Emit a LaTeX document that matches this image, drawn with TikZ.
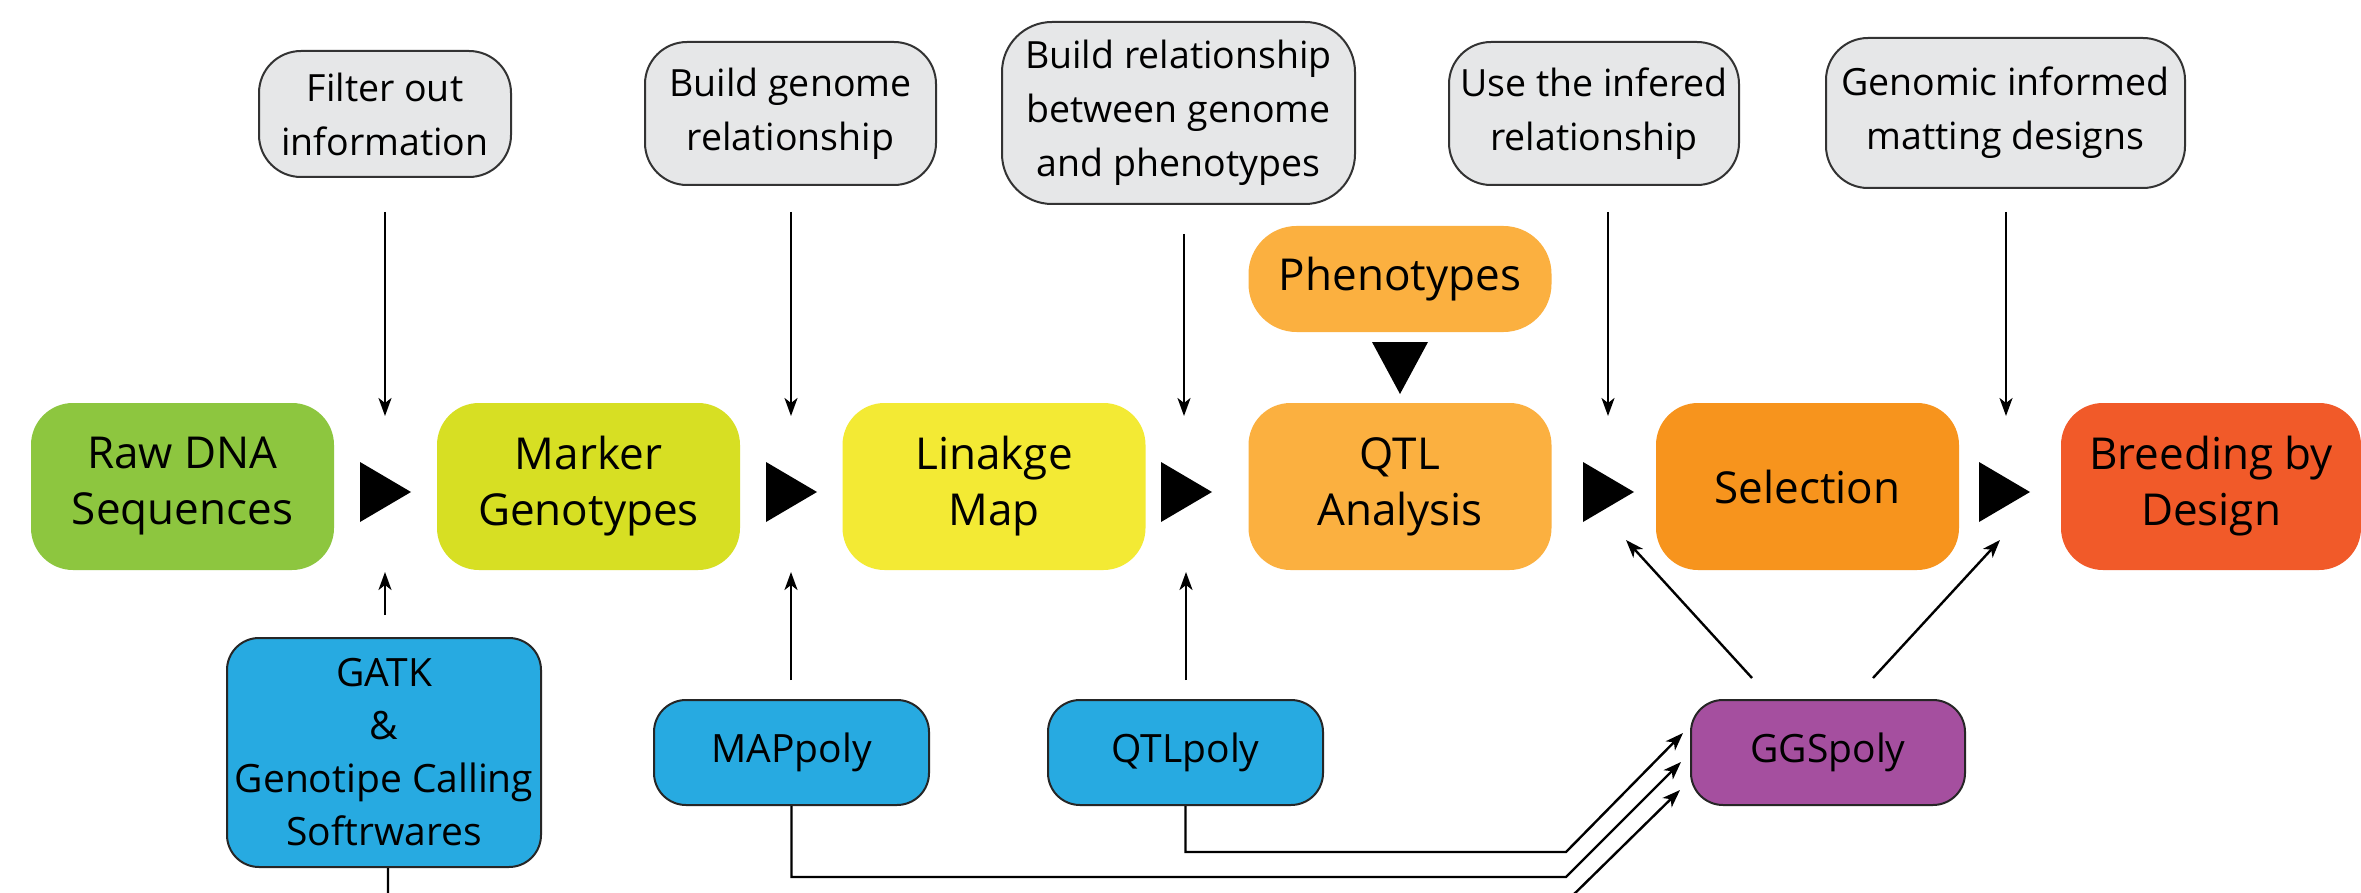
\documentclass[tikz,border=0pt]{standalone}
\usepackage{fontspec}
\setmainfont{Open Sans}
\usetikzlibrary{arrows.meta}
\definecolor{cGreen}{HTML}{8DC63F}
\definecolor{cLime}{HTML}{D7DF23}
\definecolor{cYellow}{HTML}{F3EA34}
\definecolor{cQTL}{HTML}{FBB040}
\definecolor{cSel}{HTML}{F7941D}
\definecolor{cBreed}{HTML}{F15A29}
\definecolor{cBlue}{HTML}{27AAE1}
\definecolor{cPurple}{HTML}{A54F9F}
\definecolor{cGray}{HTML}{E6E7E8}
\definecolor{cBorder}{HTML}{333333}
\tikzset{
  mainbox/.style={rectangle, rounded corners=42pt, minimum width=303pt, minimum height=167pt,
    align=center, font=\fontsize{44}{56}\selectfont, inner sep=0pt},
  graybox/.style={rectangle, rounded corners=42pt, draw=cBorder, line width=2pt, fill=cGray,
    align=center, font=\fontsize{37.5}{54}\selectfont, inner sep=0pt},
  toolbox/.style={rectangle, rounded corners=32pt, draw=black!85, line width=2pt,
    align=center, font=\fontsize{39}{53}\selectfont, inner sep=0pt},
  arr/.style={line width=2.4pt, -{Stealth[length=18pt,width=13pt,inset=5pt]}}
}
\begin{document}
\begin{tikzpicture}[x=1pt,y=-1pt]
\useasboundingbox (0,0) rectangle (2361,893);
\clip (0,0) rectangle (2361,893);
\fill[white] (0,0) rectangle (2361,893);

% main row
\node[mainbox, fill=cGreen] (raw) at (182.5,486.5) {Raw DNA\\Sequences};
\node[mainbox, fill=cLime] (marker) at (588.5,486.5) {Marker\\Genotypes};
\node[mainbox, fill=cYellow] (linkage) at (994,486.5) {Linakge\\Map};
\node[mainbox, fill=cQTL] (qtl) at (1400,486.5) {QTL\\Analysis};
\node[mainbox, fill=cSel] (sel) at (1807.5,486.5) {Selection};
\node[mainbox, fill=cBreed, minimum width=300pt] (breed) at (2211,486.5) {Breeding by\\Design};
\node[mainbox, fill=cQTL, minimum height=106pt, rounded corners=48pt] (pheno) at (1400,279) {Phenotypes};

% top gray boxes
\node[graybox, minimum width=252pt, minimum height=126pt] (filter) at (385,114) {Filter out\\information};
\node[graybox, minimum width=291pt, minimum height=143pt] (bgen) at (790.5,113.5) {Build genome\\relationship};
\node[graybox, minimum width=353pt, minimum height=182pt, rounded corners=50pt] (brel) at (1178.5,113) {Build relationship\\between genome\\and phenotypes};
\node[graybox, minimum width=290pt, minimum height=143pt] (use) at (1594,113.5) {Use the infered\\relationship};
\node[graybox, minimum width=359pt, minimum height=150pt] (gen) at (2005.5,113) {Genomic informed\\matting designs};

% bottom tool boxes
\node[toolbox, fill=cBlue, minimum width=314pt, minimum height=229pt] (gatk) at (384,752.5) {GATK\\\&\\Genotipe Calling\\Softrwares};
\node[toolbox, fill=cBlue, minimum width=275pt, minimum height=105pt] (mappoly) at (791.5,752.5) {MAPpoly};
\node[toolbox, fill=cBlue, minimum width=275pt, minimum height=105pt] (qtlpoly) at (1185.5,752.5) {QTLpoly};
\node[toolbox, fill=cPurple, minimum width=274pt, minimum height=105pt] (ggs) at (1828,752.5) {GGSpoly};

% flow triangles
\foreach \x in {360,766,1161,1583,1979}
  \fill (\x,462) -- (\x+51,492) -- (\x,522) -- cycle;
\fill (1372,342) -- (1428,342) -- (1400,394) -- cycle;

% arrow end points
\coordinate (d1) at (385,416);  \coordinate (d1s) at (385,212);
\coordinate (d2) at (791,416);  \coordinate (d2s) at (791,212);
\coordinate (d3) at (1184,416); \coordinate (d3s) at (1184,234);
\coordinate (d4) at (1608,416); \coordinate (d4s) at (1608,212);
\coordinate (d5) at (2006,416); \coordinate (d5s) at (2006,212);
\coordinate (u1) at (385,572);  \coordinate (u1s) at (385,615);
\coordinate (u2) at (791,572);  \coordinate (u2s) at (791,680);
\coordinate (u3) at (1186,572); \coordinate (u3s) at (1186,680);
\coordinate (g1) at (1626,540); \coordinate (g1s) at (1752,678);
\coordinate (g2) at (2000,540); \coordinate (g2s) at (1873,678);
\coordinate (k1) at (1683,733);
\coordinate (k2) at (1681,762);
\coordinate (k3) at (1680,790);

% down arrows from descriptions
\draw[arr] (d1s) -- (d1);
\draw[arr] (d2s) -- (d2);
\draw[arr] (d3s) -- (d3);
\draw[arr] (d4s) -- (d4);
\draw[arr] (d5s) -- (d5);

% up arrows from tools
\draw[arr] (u1s) -- (u1);
\draw[arr] (u2s) -- (u2);
\draw[arr] (u3s) -- (u3);

% GGSpoly arrows
\draw[arr] (g1s) -- (g1);
\draw[arr] (g2s) -- (g2);

% tool connections into GGSpoly
\draw[arr] (qtlpoly.south) -- (1185.5,852) -- (1566,852) -- (k1);
\draw[arr] (mappoly.south) -- (791.5,877) -- (1566,877) -- (k2);
\draw[arr] ([xshift=4pt]gatk.south) -- (388,902) -- (1566,902) -- (k3);
\end{tikzpicture}
\end{document}
